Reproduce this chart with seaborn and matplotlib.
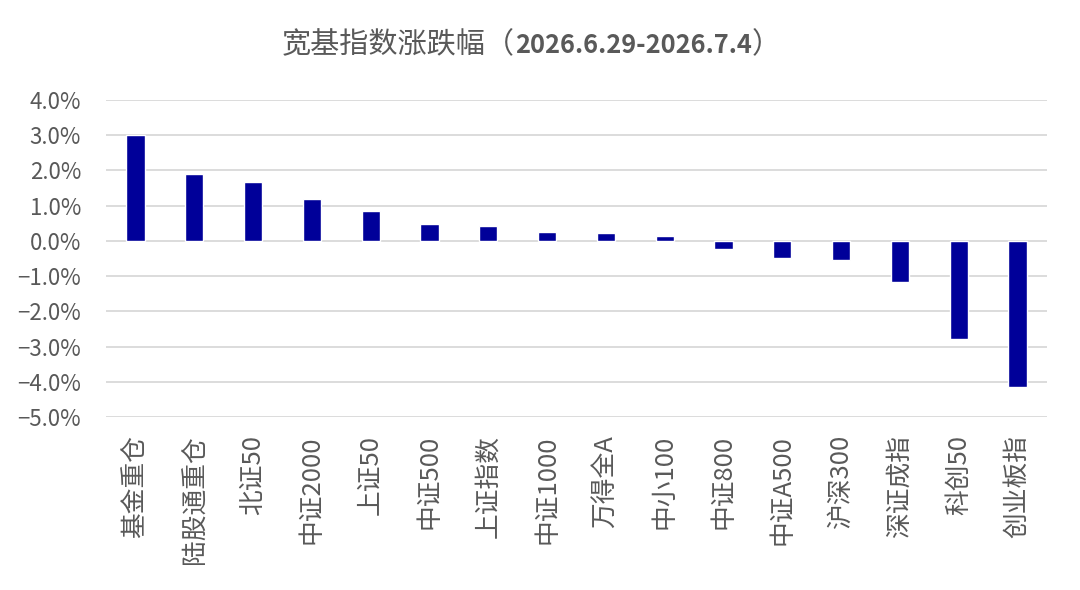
import pandas as pd
import matplotlib.pyplot as plt
import seaborn as sns
from matplotlib.ticker import PercentFormatter

# 宽基指数周涨跌幅 (%)
names = ['基金重仓', '陆股通重仓', '北证50', '中证2000', '上证50', '中证500',
         '上证指数', '中证1000', '万得全A', '中小100', '中证800', '中证A500',
         '沪深300', '深证成指', '科创50', '创业板指']
changes = [3.00, 1.91, 1.66, 1.18, 0.84, 0.49, 0.42, 0.24, 0.21, 0.13,
           -0.24, -0.49, -0.54, -1.17, -2.78, -4.15]
y_ticks = [4, 3, 2, 1, 0, -1, -2, -3, -4, -5]

df = pd.DataFrame({'name': names, 'change': changes})

sns.set_theme(style='white')
plt.rcParams['font.family'] = ['Noto Sans CJK SC', 'DejaVu Sans']

grey = '#595959'
W, H = 1080, 590
fig = plt.figure(figsize=(10.8, 5.9), dpi=100)
ax = fig.add_axes([106 / W, 1 - 417 / H, (1047 - 106) / W, (417 - 100) / H])

sns.barplot(data=df, x='name', y='change', color='#000099', width=0.31,
            saturation=1, ax=ax, zorder=3)

ax.set_ylim(-5, 4)
ax.set_xlim(-0.5, len(names) - 0.5)
ax.set_yticks(y_ticks)
ax.yaxis.set_major_formatter(PercentFormatter(decimals=1))
ax.grid(axis='y', color='#d9d9d9', linewidth=1.3, zorder=0)
ax.grid(axis='x', visible=False)
for s in ax.spines.values():
    s.set_visible(False)
ax.set_xlabel('')
ax.set_ylabel('')
ax.tick_params(axis='y', length=0, pad=18, labelsize=16, labelcolor=grey)
ax.tick_params(axis='x', length=0, pad=13, labelsize=18.5, labelcolor=grey)
for lab in ax.get_xticklabels():
    lab.set_rotation(90)
    lab.set_va('top')
    lab.set_ha('center')
    lab.set_fontweight('light')

# 标题：中文常规，日期加粗，按基线拼接
renderer = fig.canvas.get_renderer()
base_y = 1 - 53 / H
x = 282 / W
parts = [('宽基指数涨跌幅（', 21, 'normal'),
         ('2026.6.29-2026.7.4', 18.3, 'bold'),
         ('）', 21, 'normal')]
for txt, size, weight in parts:
    t = fig.text(x, base_y, txt, fontsize=size, fontweight=weight,
                 color=grey, ha='left', va='baseline')
    x = t.get_window_extent(renderer).x1 / W

fig.savefig('out.png', dpi=100)
